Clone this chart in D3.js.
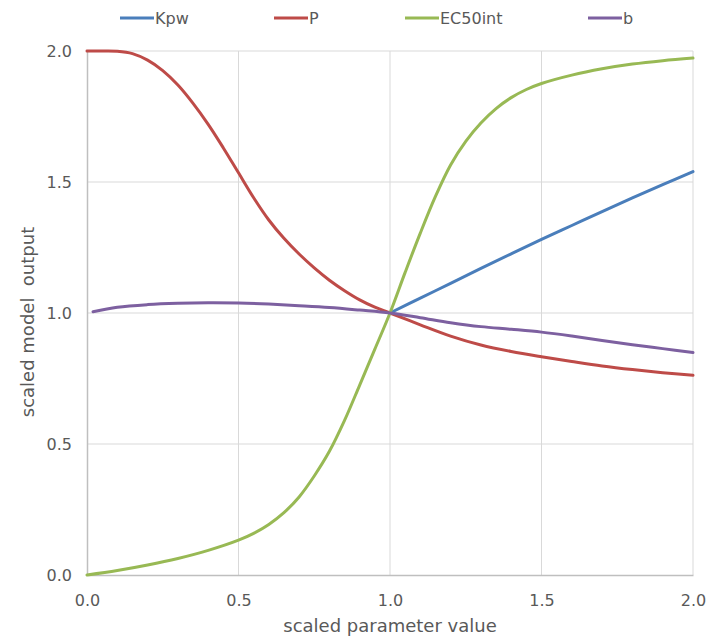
<!DOCTYPE html>
<html>
<head>
<meta charset="utf-8">
<script src="https://cdn.jsdelivr.net/npm/d3@7"></script>
<style>
  body { margin: 0; background: #fff; }
  svg text { font-family: "DejaVu Sans", sans-serif; fill: #595959; }
</style>
</head>
<body>
<svg id="chart" width="707" height="638"></svg>
<script>
// Kpw: sampled only above the reference value
const kpwX = [1.0, 1.1, 1.2, 1.3, 1.4, 1.5, 1.6, 1.7, 1.8, 1.9, 2.0];
const kpwValues = [1.0, 1.057, 1.113, 1.17, 1.226, 1.281, 1.334, 1.387, 1.439, 1.49, 1.54];

// P: denser sampling where the curve bends
const pX = [0.0, 0.05, 0.1, 0.15, 0.2, 0.25, 0.3, 0.35, 0.4, 0.45, 0.5, 0.55, 0.6, 0.65,
            0.7, 0.75, 0.8, 0.85, 0.9, 0.95, 1.0, 1.1, 1.2, 1.3, 1.4, 1.5, 1.6, 1.7, 1.8, 1.9, 2.0];
const pValues = [2.0, 2.0, 1.999, 1.99, 1.965, 1.925, 1.87, 1.80, 1.72, 1.63, 1.535, 1.44, 1.355, 1.285,
                 1.225, 1.172, 1.125, 1.085, 1.05, 1.022, 1.0, 0.955, 0.912, 0.878, 0.853, 0.833,
                 0.815, 0.798, 0.784, 0.772, 0.762];

// EC50int
const ecX = [0.0, 0.1, 0.2, 0.3, 0.4, 0.5, 0.55, 0.6, 0.65, 0.7, 0.75, 0.8, 0.85, 0.9, 0.95, 1.0,
             1.05, 1.1, 1.15, 1.2, 1.25, 1.3, 1.35, 1.4, 1.45, 1.5, 1.6, 1.7, 1.8, 1.9, 2.0];
const ec50Values = [0.0, 0.017, 0.038, 0.063, 0.094, 0.133, 0.159, 0.193, 0.238, 0.298, 0.378, 0.472,
                    0.59, 0.725, 0.862, 1.0, 1.155, 1.305, 1.445, 1.565, 1.655, 1.725, 1.78, 1.822,
                    1.853, 1.876, 1.908, 1.932, 1.95, 1.963, 1.973];

// b
const bX = [0.02, 0.1, 0.2, 0.3, 0.4, 0.5, 0.6, 0.7, 0.8, 0.9, 1.0,
            1.1, 1.2, 1.3, 1.4, 1.5, 1.6, 1.7, 1.8, 1.9, 2.0];
const bValues = [1.005, 1.022, 1.032, 1.037, 1.039, 1.038, 1.034, 1.028, 1.021, 1.011, 1.0,
                 0.982, 0.963, 0.948, 0.938, 0.927, 0.912, 0.895, 0.879, 0.864, 0.849];

const seriesNames = ["Kpw", "P", "EC50int", "b"];
const seriesColors = ["#4a7ebb", "#be4b48", "#98b954", "#7d60a0"];
const xTicks = [0.0, 0.5, 1.0, 1.5, 2.0];
const yTicks = [0.0, 0.5, 1.0, 1.5, 2.0];

const series = [
  { name: seriesNames[0], color: seriesColors[0], xs: kpwX, ys: kpwValues },
  { name: seriesNames[1], color: seriesColors[1], xs: pX, ys: pValues },
  { name: seriesNames[2], color: seriesColors[2], xs: ecX, ys: ec50Values },
  { name: seriesNames[3], color: seriesColors[3], xs: bX, ys: bValues }
];

const svg = d3.select("#chart");
const margin = { left: 87, right: 14, top: 51, bottom: 63 };
const W = 707, H = 638;

const x = d3.scaleLinear().domain([0, 2]).range([margin.left, W - margin.right]);
const y = d3.scaleLinear().domain([0, 2]).range([H - margin.bottom, margin.top]);

// Gridlines
const grid = svg.append("g");
grid.selectAll("line.h").data(yTicks.filter(d => d > 0)).join("line")
  .attr("x1", x(0)).attr("x2", x(2))
  .attr("y1", d => y(d)).attr("y2", d => y(d))
  .attr("stroke", "#d9d9d9").attr("stroke-width", 1);
grid.selectAll("line.v").data(xTicks.filter(d => d > 0)).join("line")
  .attr("y1", y(0)).attr("y2", y(2))
  .attr("x1", d => x(d)).attr("x2", d => x(d))
  .attr("stroke", "#d9d9d9").attr("stroke-width", 1);

// Axes
const xAxis = svg.append("g")
  .attr("transform", `translate(0,${y(0)})`)
  .call(d3.axisBottom(x).tickValues(xTicks).tickFormat(d3.format(".1f")).tickSize(0).tickPadding(20));
xAxis.select(".domain").attr("stroke", "#bfbfbf").attr("stroke-width", 1.5);
xAxis.selectAll("text").style("font-size", "16px").attr("fill", "#595959");

const yAxis = svg.append("g")
  .attr("transform", `translate(${x(0)},0)`)
  .call(d3.axisLeft(y).tickValues(yTicks).tickFormat(d3.format(".1f")).tickSize(0).tickPadding(15));
yAxis.select(".domain").attr("stroke", "#bfbfbf").attr("stroke-width", 1.5);
yAxis.selectAll("text").style("font-size", "16px").attr("fill", "#595959");

// Series lines, smoothed through the sampled points
const line = d3.line()
  .x(d => x(d[0])).y(d => y(d[1]))
  .curve(d3.curveCatmullRom.alpha(0.5));

svg.append("g").selectAll("path").data(series).join("path")
  .attr("d", s => line(s.xs.map((xv, i) => [xv, s.ys[i]])))
  .attr("fill", "none")
  .attr("stroke", s => s.color)
  .attr("stroke-width", 3)
  .attr("stroke-linejoin", "round")
  .attr("stroke-linecap", "round");

// Legend
const legendX = [120, 274, 405, 588];
const legend = svg.append("g");
series.forEach((s, i) => {
  const g = legend.append("g").attr("transform", `translate(${legendX[i]},18)`);
  g.append("line").attr("x1", 0).attr("x2", 34).attr("y1", 0).attr("y2", 0)
    .attr("stroke", s.color).attr("stroke-width", 3);
  g.append("text").attr("x", 35).attr("y", 0).attr("dy", "0.36em")
    .style("font-size", "16px").text(s.name);
});

// Axis titles
svg.append("text")
  .attr("x", (x(0) + x(2)) / 2).attr("y", 632)
  .attr("text-anchor", "middle")
  .style("font-size", "18px")
  .text("scaled parameter value");

svg.append("text")
  .attr("transform", `translate(28,${y(1) + 9}) rotate(-90)`)
  .attr("text-anchor", "middle")
  .attr("dy", "0.35em")
  .style("font-size", "18px")
  .style("white-space", "pre")
  .text("scaled model  output");
</script>
</body>
</html>
